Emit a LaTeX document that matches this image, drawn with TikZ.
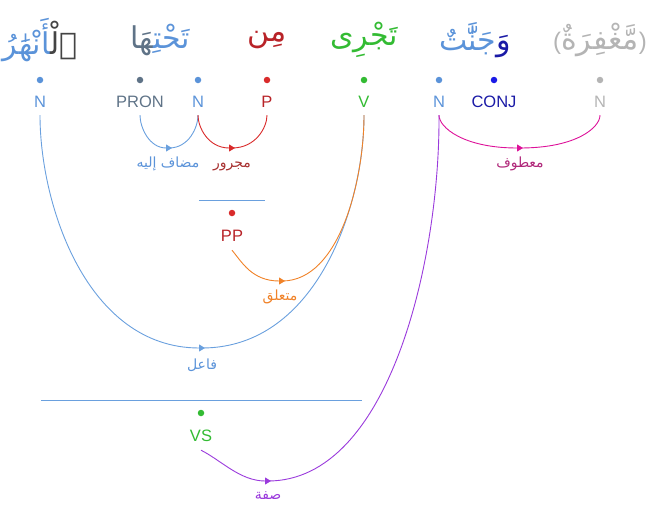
\documentclass[tikz,border=0pt]{standalone}
\usepackage{fontspec}
\setmainfont{Liberation Sans}
\newfontfamily\arabicfont[Script=Arabic]{DejaVu Sans}
\TeXXeTstate=1
\usetikzlibrary{arrows.meta,calc}
\definecolor{nblue}{HTML}{5B93D9}
\definecolor{arcblue}{HTML}{6AA0DE}
\definecolor{slate}{HTML}{5F7387}
\definecolor{pred}{HTML}{B82328}
\definecolor{dotred}{HTML}{D92B2B}
\definecolor{vgreen}{HTML}{33BB33}
\definecolor{conjblue}{HTML}{1A1AA6}
\definecolor{conjdot}{HTML}{1A1AE6}
\definecolor{lgrey}{HTML}{B4B4B4}
\definecolor{dgrey}{HTML}{444444}
\definecolor{orng}{HTML}{F08228}
\definecolor{purp}{HTML}{9A3ADC}
\definecolor{mag}{HTML}{DD1199}
\definecolor{maglab}{HTML}{B0287A}
\definecolor{redlab}{HTML}{A83232}
\tikzset{
  word/.style={font=\arabicfont\fontsize{30}{34}\selectfont, inner sep=0pt},
  tag/.style={font=\fontsize{16.5}{18}\selectfont, inner sep=0pt, text height=12pt, text depth=0pt},
  dotn/.style={circle, inner sep=0pt, minimum size=6.5pt},
  lab/.style={font=\arabicfont\fontsize{14}{16}\selectfont, inner sep=0pt},
  arcl/.style={line width=0.9pt},
  tipped/.style={arcl, -{Triangle[length=6pt,width=7pt]}, shorten >=-3pt},
}
\begin{document}
\begin{tikzpicture}[x=1pt,y=-1pt]
\useasboundingbox (0,0) rectangle (649,506);
% words (coloured parts written in visual left-to-right order)
\node[word] (w1) at (40,40) {{\color{nblue}^^^^200dأَنْهَٰرُ}{\color{dgrey}ٱلْ^^^^200d}};
\node[word] (w2) at (160,40) {{\color{slate}^^^^200dهَا}{\color{nblue}تَحْتِ^^^^200d}};
\node[word,text=pred] (w3) at (267,40) {مِن};
\node[word,text=vgreen] (w4) at (364,40) {تَجْرِى};
\node[word] (w5) at (475,40) {{\color{nblue}جَنَّٰتٌ}{\color{conjblue}وَ}};
\node[word,text=lgrey] (w6) at (600,40) {{\rmfamily\fontsize{24}{28}\selectfont(}مَّغْفِرَةٌ{\rmfamily\fontsize{24}{28}\selectfont)}};
% dots
\node[dotn,fill=nblue] (d1) at (40,80) {};
\node[dotn,fill=slate] (d2) at (140,80) {};
\node[dotn,fill=nblue] (d3) at (198,80) {};
\node[dotn,fill=dotred] (d4) at (267,80) {};
\node[dotn,fill=vgreen] (d5) at (364,80) {};
\node[dotn,fill=nblue] (d6) at (439,80) {};
\node[dotn,fill=conjdot] (d7) at (494,80) {};
\node[dotn,fill=lgrey] (d8) at (600,80) {};
% tags
\node[tag,text=nblue] (t1) at (40,101) {N};
\node[tag,text=slate] (t2) at (140,101) {PRON};
\node[tag,text=nblue] (t3) at (198,101) {N};
\node[tag,text=pred] (t4) at (267,101) {P};
\node[tag,text=vgreen] (t5) at (364,101) {V};
\node[tag,text=nblue] (t6) at (439,101) {N};
\node[tag,text=conjblue] (t7) at (494,101) {CONJ};
\node[tag,text=lgrey] (t8) at (600,101) {N};
% PP phrase
\node[minimum width=66pt, inner sep=0pt, minimum height=0pt] (ppl) at (232,200) {};
\draw[arcblue, line width=0.9pt] (ppl.west) -- (ppl.east);
\node[dotn,fill=dotred] (dpp) at (232,213) {};
\node[tag,text=pred] (pp) at (232,235) {PP};
% VS phrase
\node[minimum width=321pt, inner sep=0pt, minimum height=0pt] (vsl) at (201.5,400) {};
\draw[arcblue, line width=0.9pt] (vsl.west) -- (vsl.east);
\node[dotn,fill=vgreen] (dvs) at (201,413) {};
\node[tag,text=vgreen] (vs) at (201,435) {VS};
% bottom points
\coordinate (b1) at (169,148);
\coordinate (b2) at (232,148);
\coordinate (b3) at (520,148);
\coordinate (b4) at (202,348);
\coordinate (b5) at (282,281);
\coordinate (b6) at (268,481);
% arcs
\draw[tipped,arcblue] ([yshift=-8pt]t2.south) .. controls +(0,12) and +(-20,0) .. (b1);
\draw[arcl,arcblue] (b1) .. controls +(20,0) and +(0,12) .. ([yshift=-8pt]t3.south);
\draw[tipped,dotred] ([yshift=-8pt]t3.south) .. controls +(0,12) and +(-24,0) .. (b2);
\draw[arcl,dotred] (b2) .. controls +(24,0) and +(0,12) .. ([yshift=-8pt]t4.south);
\draw[tipped,mag] ([yshift=-8pt]t6.south) .. controls +(0,12) and +(-57,0) .. (b3);
\draw[arcl,mag] (b3) .. controls +(57,0) and +(0,12) .. ([yshift=-8pt]t8.south);
\draw[tipped,arcblue] ([yshift=-8pt]t1.south) .. controls +(0,90) and +(-115,0) .. (b4);
\draw[arcl,arcblue] (b4) .. controls +(115,0) and +(0,90) .. ([yshift=-8pt]t5.south);
\draw[tipped,orng] ([yshift=-9pt]pp.south) .. controls +(10,12) and +(-30,0) .. (b5);
\draw[arcl,orng] (b5) .. controls +(58,0) and +(0,64) .. ([yshift=-8pt]t5.south);
\draw[tipped,purp] ([yshift=-9pt]vs.south) .. controls +(20,10) and +(-28,0) .. (b6);
\draw[arcl,purp] (b6) .. controls +(122,0) and +(1,143) .. ([yshift=-8pt]t6.south);
% labels
\node[lab,text=nblue] (l1) at (168,164) {\beginR مضاف إليه\endR};
\node[lab,text=redlab] (l2) at (232,166) {مجرور};
\node[lab,text=maglab] (l3) at (520,164) {معطوف};
\node[lab,text=orng] (l4) at (280,297) {متعلق};
\node[lab,text=nblue] (l5) at (202,365) {فاعل};
\node[lab,text=purp] (l6) at (268,496) {صفة};
\end{tikzpicture}
\end{document}
